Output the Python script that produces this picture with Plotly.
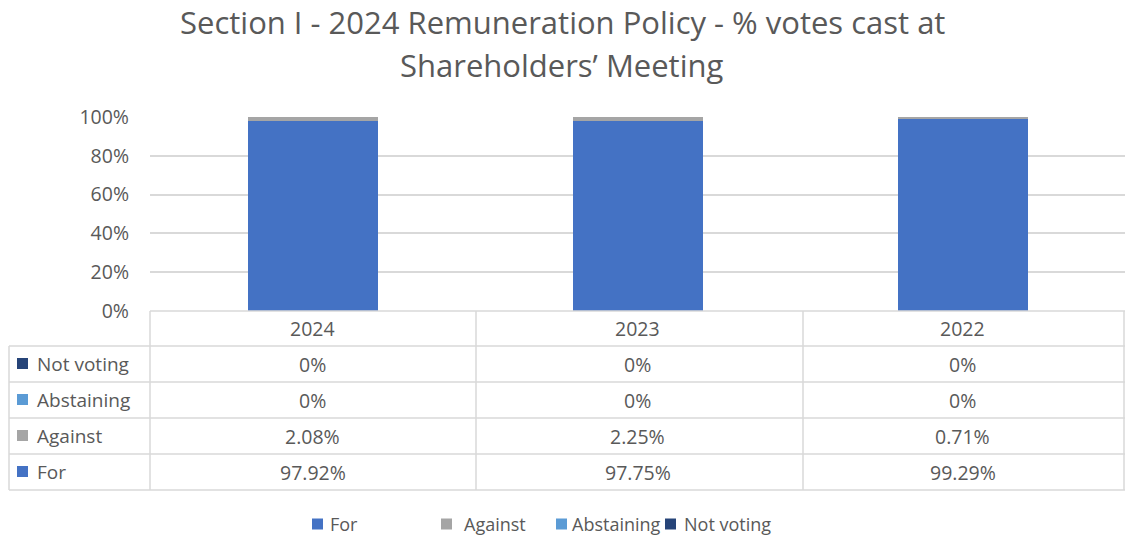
import plotly.graph_objects as go

years = ["2024", "2023", "2022"]
series_names = ["For", "Against", "Abstaining", "Not voting"]
for_vals = [97.92, 97.75, 99.29]
against_vals = [2.08, 2.25, 0.71]
abstaining_vals = [0, 0, 0]
not_voting_vals = [0, 0, 0]
y_ticks = [0, 20, 40, 60, 80, 100]
title_lines = ["Section I - 2024 Remuneration Policy - % votes cast at", "Shareholders\u2019 Meeting"]

colors = {"For": "#4472C4", "Against": "#A5A5A5", "Abstaining": "#5B9BD5", "Not voting": "#264478"}
values = {"For": for_vals, "Against": against_vals, "Abstaining": abstaining_vals, "Not voting": not_voting_vals}

W, H = 1125, 537
L, R, T, B = 150, 0, 117, 226
PH = H - T - B
FONT = "Open Sans"
TXT = "#595959"
GRID = "#D9D9D9"

def py(p):  # pixel y -> paper y
    return (H - B - p) / PH

def px(p):  # pixel x -> paper x
    return (p - L) / (W - L - R)

fig = go.Figure()
for name in series_names:
    fig.add_trace(go.Bar(x=years, y=[v / 100 for v in values[name]], name=name,
                         marker=dict(color=colors[name], line=dict(width=0)), width=0.4,
                         showlegend=False))

shapes = []
ann = []
rows_y = [311, 346, 382, 418, 454, 490]
for i, yy in enumerate(rows_y):
    x0 = 150 if i == 0 else 9
    shapes.append(dict(type="line", xref="paper", yref="paper", x0=px(x0), x1=px(1125),
                       y0=py(yy), y1=py(yy), line=dict(color=GRID, width=1.5)))
shapes.append(dict(type="line", xref="paper", yref="paper", x0=px(9), x1=px(9),
                   y0=py(346), y1=py(490), line=dict(color=GRID, width=1.5)))
for xx in [150, 476, 803, 1124]:
    shapes.append(dict(type="line", xref="paper", yref="paper", x0=px(xx), x1=px(xx),
                       y0=py(311), y1=py(490), line=dict(color=GRID, width=1.5)))

TS = 19.5
for i, yr in enumerate(years):
    ann.append(dict(x=i, xref="x", y=py(328), yref="paper", text=yr, showarrow=False,
                    font=dict(family=FONT, size=TS, color=TXT), xanchor="center", yanchor="middle"))

table_order = ["Not voting", "Abstaining", "Against", "For"]
row_centers = [364, 400, 436, 472]
for name, yc in zip(table_order, row_centers):
    shapes.append(dict(type="rect", xref="paper", yref="paper", x0=px(17), x1=px(28),
                       y0=py(yc - 6), y1=py(yc + 5), fillcolor=colors[name], line=dict(width=0)))
    ann.append(dict(x=px(35), xref="paper", y=py(yc), yref="paper", text=name, showarrow=False,
                    font=dict(family=FONT, size=19, color=TXT), xanchor="left", yanchor="middle"))
    for i, v in enumerate(values[name]):
        txt = "0%" if v == 0 else f"{v:.2f}%"
        ann.append(dict(x=i, xref="x", y=py(yc), yref="paper", text=txt, showarrow=False,
                        font=dict(family=FONT, size=TS, color=TXT), xanchor="center", yanchor="middle"))

leg_pos = {"For": 312, "Against": 441, "Abstaining": 556, "Not voting": 665}
leg_gap = {"For": 16, "Against": 21, "Abstaining": 14, "Not voting": 17}
for name in series_names:
    x0 = leg_pos[name]
    shapes.append(dict(type="rect", xref="paper", yref="paper", x0=px(x0), x1=px(x0 + 11),
                       y0=py(529.5), y1=py(518.5), fillcolor=colors[name], line=dict(width=0)))
    ann.append(dict(x=px(x0 + leg_gap[name]), xref="paper", y=py(524), yref="paper", text=name,
                    showarrow=False, font=dict(family=FONT, size=18, color=TXT),
                    xanchor="left", yanchor="middle"))

for line, yc in zip(title_lines, [22, 65]):
    ann.append(dict(x=px(562), xref="paper", y=py(yc), yref="paper", text=line, showarrow=False,
                    font=dict(family=FONT, size=31, color=TXT), xanchor="center", yanchor="middle"))

fig.update_layout(
    width=W, height=H, margin=dict(l=L, r=R, t=T, b=B),
    barmode="stack", paper_bgcolor="white", plot_bgcolor="white",
    shapes=shapes, annotations=ann, showlegend=False,
    font=dict(family=FONT, color=TXT),
)
fig.update_xaxes(type="category", categoryorder="array", categoryarray=years, range=[-0.5, 2.5],
                 showticklabels=False, showgrid=False, zeroline=False, showline=False)
fig.update_yaxes(range=[0, 1], tickvals=[t / 100 for t in y_ticks], ticktext=[f"{t}%" for t in y_ticks],
                 showgrid=True, gridcolor=GRID, gridwidth=1.5, zeroline=False, showline=False,
                 tickfont=dict(family=FONT, size=19.5, color=TXT), ticklabelstandoff=20)

fig.write_html("out.html", config={"displayModeBar": False},
               post_script="document.body.style.margin='0px';document.body.style.overflow='hidden';")
